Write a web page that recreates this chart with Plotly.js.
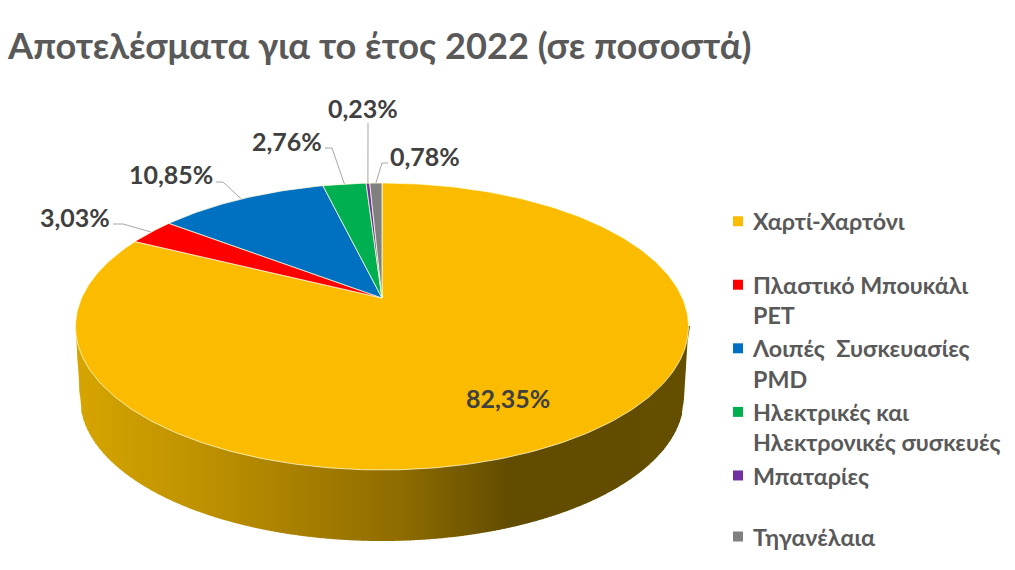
<!DOCTYPE html>
<html><head><meta charset="utf-8">
<script src="https://cdn.plot.ly/plotly-3.0.1.min.js"></script>
<style>html,body{margin:0;padding:0;background:#fff}#c{width:1015px;height:570px}</style>
</head><body><div id="c"></div>
<script>
const categories = ["Χαρτί-Χαρτόνι","Πλαστικό Μπουκάλι<br>PET","Λοιπές  Συσκευασίες<br>PMD","Ηλεκτρικές και<br>Ηλεκτρονικές συσκευές","Μπαταρίες","Τηγανέλαια"];
const values = [82.35,3.03,10.85,2.76,0.23,0.78];
const valueLabels = ["82,35%","3,03%","10,85%","2,76%","0,23%","0,78%"];
const colors = ["#FBBC00","#FF0000","#0070C0","#00B050","#7030A0","#808080"];

const FONT = "Lato, 'Open Sans', sans-serif";
const LEGEND_SIZE = 23.3;
const APEX = {x:382, y:298}, A = 300.4, B = 137.8, K = 0.1986;
function project(pct){
  const t = pct/100*2*Math.PI, u = Math.sin(t), v = Math.cos(t), d = 1+K*v;
  return [APEX.x + A*u/d, APEX.y - B*v/d];
}
const traces = [], shapes = [], annotations = [];

// side of the disc: vertical strips forming the dark gradient
const stops = [[76,[214,165,0]],[230,[184,140,0]],[400,[142,108,0]],[510,[98,76,0]],[689,[100,78,0]]];
function sideColor(x){
  for(let i=1;i<stops.length;i++) if(x<=stops[i][0]){
    const a=stops[i-1], b=stops[i], f=(x-a[0])/(b[0]-a[0]);
    return "rgb("+a[1].map((c,j)=>Math.round(c+(b[1][j]-c)*f)).join(",")+")";
  }
  return "rgb("+stops[stops.length-1][1].join(",")+")";
}
function sideBottom(x){
  const r=(x-382)/302;
  if(Math.abs(r)<=1) return 398+143*Math.sqrt(1-r*r);
  return 326+72*(306.5-Math.abs(x-382))/4.5;
}
for(let x=75.5;x<689;x+=2){
  const x1=x+2.5;
  shapes.push({type:"path",xref:"x",yref:"y",layer:"below",
    path:`M${x},326 L${x1},326 L${x1},${sideBottom(Math.min(x1,688.5))} L${x},${sideBottom(Math.max(x,75.5))} Z`,
    fillcolor:sideColor(x),line:{width:0}});
}

// top face wedges
let cum=0; const mids=[];
values.forEach((val,i)=>{
  const xs=[APEX.x], ys=[APEX.y], steps=Math.max(4,Math.ceil(val*4));
  for(let s=0;s<=steps;s++){const p=project(cum+val*s/steps); xs.push(p[0]); ys.push(p[1]);}
  xs.push(APEX.x); ys.push(APEX.y);
  traces.push({type:"scatter",mode:"lines",x:xs,y:ys,fill:"toself",fillcolor:colors[i],
    line:{color:"rgba(255,255,220,0.75)",width:1},showlegend:false,hoverinfo:"skip",legendgroup:"g"+i});
  mids.push(project(cum+val/2));
  cum+=val;
});
// legend entries: every entry takes two lines so the spacing is regular, except the last
categories.forEach((c,i)=>{
  const oneLine = c.indexOf("<br>")<0;
  const name = c.split("<br>").map(s=>"<b>"+s+"</b>").join("<br>");
  const pad = oneLine && i<categories.length-1;
  traces.push({type:"scatter",mode:"markers",x:[null],y:[null],name:pad?name+"<br> ":name,legendgroup:"g"+i,
    marker:{symbol:"square",size:10,color:colors[i]},showlegend:true});
});

// label placement [text centre x, y, elbow points from the label to the slice]
const labelPlace = [
  {x:508,y:398,elbow:null},
  {x:74.5,y:217,elbow:[[113,224],[123,224]]},
  {x:170.5,y:174,elbow:[[216,182],[223,182]]},
  {x:287,y:141,elbow:[[325,148],[332,148]]},
  {x:363,y:108,elbow:[[368,123]]},
  {x:425,y:156,elbow:[[388,163],[382,163]]}
];
labelPlace.forEach((l,i)=>{
  annotations.push({xref:"x",yref:"y",x:l.x,y:l.y,text:"<b>"+valueLabels[i]+"</b>",showarrow:false,
    font:{family:FONT,size:25,color:"#404040"}});
  if(l.elbow){
    const pts=l.elbow.concat([mids[i]]);
    traces.push({type:"scatter",mode:"lines",x:pts.map(p=>p[0]),y:pts.map(p=>p[1]),
      line:{color:"#A6A6A6",width:1},showlegend:false,hoverinfo:"skip"});
  }
});

const layout={
  width:1015,height:570,margin:{l:0,r:0,t:0,b:0,autoexpand:false},paper_bgcolor:"#fff",plot_bgcolor:"#fff",
  title:{text:"<b>Αποτελέσματα για το έτος 2022 (σε ποσοστά)</b>",x:8/1015,xanchor:"left",xref:"paper",y:1-46/570,yanchor:"middle",yref:"paper",
    font:{family:FONT,size:36.2,color:"#595959"}},
  xaxis:{range:[0,1015],visible:false,fixedrange:true},
  yaxis:{range:[570,0],visible:false,fixedrange:true},
  shapes,annotations,
  legend:{x:713/1015,xanchor:"left",y:1-199.5/570,yanchor:"top",xref:"container",yref:"container",maxheight:400,bgcolor:"rgba(0,0,0,0)",tracegroupgap:0,traceorder:"grouped",
    font:{family:FONT,size:LEGEND_SIZE,color:"#595959"},itemclick:false,itemdoubleclick:false}
};
Plotly.newPlot("c",traces,layout,{staticPlot:true,displayModeBar:false}).then(gd=>{
  // align each legend swatch with the first line of its entry
  const lh = LEGEND_SIZE*1.3;
  const items = gd.querySelectorAll(".legend .traces");
  items.forEach((tr,i)=>{
    const lines = tr.querySelectorAll("text.legendtext tspan.line").length;
    const dy = lines>1 ? -lh/2 : 0;
    const g = tr.querySelector(".legendsymbols");
    if(g) g.setAttribute("transform",`translate(5,${dy})`);
    if(i===items.length-1){
      const m = /translate\(([-\d.]+),\s*([-\d.]+)\)/.exec(tr.getAttribute("transform")||"");
      if(m) tr.setAttribute("transform",`translate(${m[1]},${parseFloat(m[2])-2.5})`);
    }
  });
});
</script></body></html>
